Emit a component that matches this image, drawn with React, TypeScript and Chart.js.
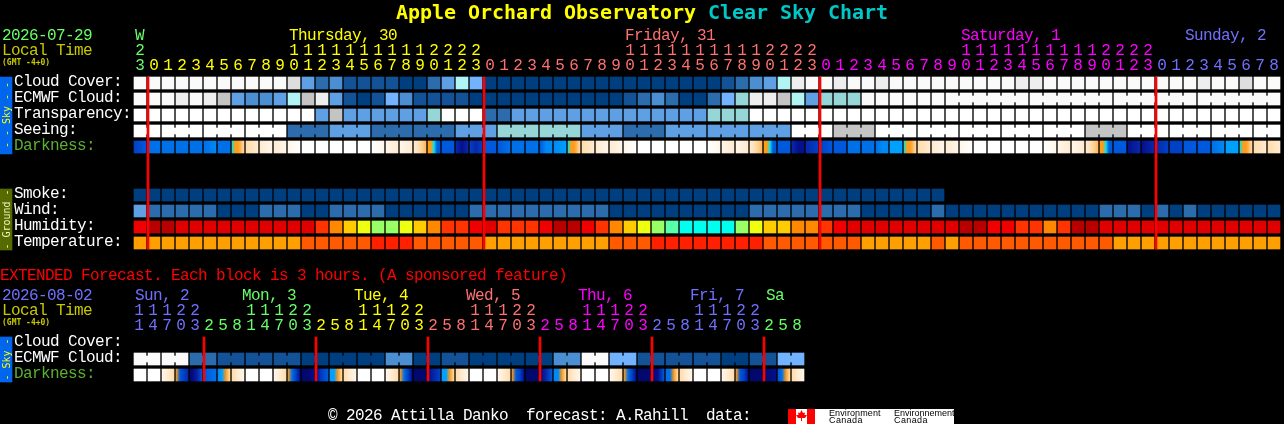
import { useEffect, useRef } from "react";
import { Chart, registerables } from "chart.js";

Chart.register(...registerables);

// sky level colours, 0 = clear/good ... 12 = white
const SKY_COLORS = ["#003f7f", "#135296", "#2c6cad", "#4c8ed2", "#5f9fe4", "#72b2ff", "#96d6d6", "#b0f4f4", "#c4c4c4", "#dedede", "#eeeeee", "#fafafa", "#ffffff"];
const HUMIDITY_COLORS = ["#b80000", "#e00000", "#f00000", "#ff3400", "#ff8800", "#ffcc00", "#eeff10", "#99ff66", "#59ffaa", "#00ffee"];
const TEMP_COLORS = ["#ffa000", "#ff5a00", "#ff2000"];
const DARK_COLORS = ["#ffffff", "#fff6ea", "#ffebd0", "#ffdcaa", "#ffb860", "#ff9c18", "#00e4f0", "#00a0ff", "#0088f4", "#0070e8", "#0058dc", "#0040c4", "#0828a8", "#04108c", "#02086c"];

const GREEN = "#66ff66";
const YELLOW = "#ffff00";
const SALMON = "#ff7070";
const MAGENTA = "#ff00ff";
const PERIWINKLE = "#7070ff";
const DIM_YELLOW = "#c8c800";
const DARK_GREEN = "#5cb030";

const hours = [23, 0, 1, 2, 3, 4, 5, 6, 7, 8, 9, 10, 11, 12, 13, 14, 15, 16, 17, 18, 19, 20, 21, 22, 23, 0, 1, 2, 3, 4, 5, 6, 7, 8, 9, 10, 11, 12, 13, 14, 15, 16, 17, 18, 19, 20, 21, 22, 23, 0, 1, 2, 3, 4, 5, 6, 7, 8, 9, 10, 11, 12, 13, 14, 15, 16, 17, 18, 19, 20, 21, 22, 23, 0, 1, 2, 3, 4, 5, 6, 7, 8];
const midnights = [1, 25, 49, 73];
const dayLabels = ["W", "Thursday, 30", "Friday, 31", "Saturday, 1", "Sunday, 2"];
const dayLabelCells = [0, 11, 35, 59, 75];
const dayColors = [GREEN, YELLOW, SALMON, MAGENTA, PERIWINKLE];

const cloudCover = [11, 11, 11, 11, 11, 11, 11, 11, 11, 11, 11, 9, 4, 2, 3, 1, 1, 1, 1, 0, 0, 2, 4, 7, 5, 0, 0, 0, 0, 0, 0, 0, 0, 0, 0, 0, 0, 0, 0, 0, 0, 0, 1, 2, 3, 4, 7, 10, 11, 11, 10, 11, 11, 10, 11, 11, 11, 11, 11, 11, 11, 11, 11, 10, 10, 11, 11, 11, 11, 11, 11, 11, 11, 11, 11, 11, 10, 11, 11, 9, 11, 11];
const ecmwfCloud = [11, 11, 11, 10, 11, 10, 8, 4, 3, 3, 4, 7, 8, 10, 4, 1, 0, 1, 5, 3, 1, 1, 1, 1, 0, 0, 0, 0, 0, 0, 0, 0, 0, 0, 0, 1, 2, 3, 2, 0, 0, 2, 5, 6, 10, 10, 8, 7, 4, 6, 6, 6, 11, 11, 11, 11, 11, 11, 11, 11, 11, 11, 11, 11, 11, 11, 11, 11, 11, 11, 11, 11, 11, 11, 11, 11, 11, 11, 11, 11, 11, 11];
const transparency = [12, 12, 12, 12, 12, 12, 12, 12, 12, 12, 12, 12, 12, 4, 8, 4, 4, 4, 4, 4, 4, 6, 12, 12, 12, 2, 2, 4, 4, 4, 4, 4, 4, 4, 4, 4, 4, 4, 4, 4, 4, 6, 6, 6, 12, 12, 12, 12, 12, 12, 12, 12, 12, 12, 12, 12, 12, 12, 12, 12, 12, 12, 12, 12, 12, 12, 12, 12, 12, 12, 12, 12, 12, 12, 12, 12, 12, 12, 12, 12, 12, 12];
const seeing = [12, 12, 12, 12, 12, 12, 12, 12, 12, 12, 12, 2, 2, 2, 4, 4, 4, 2, 2, 2, 2, 2, 2, 4, 4, 4, 6, 6, 6, 6, 6, 6, 4, 4, 4, 2, 2, 2, 4, 4, 4, 4, 4, 4, 4, 4, 4, 12, 12, 12, 8, 8, 8, 12, 12, 12, 12, 12, 12, 12, 12, 12, 12, 12, 12, 12, 12, 12, 8, 8, 8, 12, 12, 12, 12, 12, 12, 12, 12, 12, 12, 12];
const darkness = [
  [11, 10], [9], [9], [9], [9], [9, 8], [9], [6, 5, 5, 4, 3], [3, 2], [2, 1], [2, 1], [1, 0], [0], [0], [0], [0], [0], [0, 1], [1, 2], [1, 2], [2, 3, 4], [5, 5, 6, 10, 10],
  [10], [12, 13, 12], [11, 12, 11], [10], [10, 9], [9], [9], [10, 8, 8], [8, 7], [6, 5, 5, 4, 3], [3, 2], [2, 1], [2, 1], [1, 0], [0], [0], [0], [0], [0], [0, 1], [1, 2], [1, 2], [2, 3, 4], [5, 5, 6, 10, 10],
  [10], [12, 13, 13], [12, 11], [11, 10], [10], [9], [9], [9, 8, 8], [7], [6, 5, 5, 4, 3], [3, 2], [2, 1], [2, 1], [1, 0], [0], [0], [0], [0], [0], [0, 1], [1, 2], [1, 2], [2, 3, 4], [5, 5, 6, 10, 10],
  [10], [13, 12], [13, 12], [12, 11], [11], [10], [10], [9, 8], [7], [6, 5, 5, 4, 3], [3, 2], [3, 2],
];
const smoke = [0, 0, 0, 0, 0, 0, 0, 0, 0, 0, 0, 0, 0, 0, 0, 0, 0, 0, 0, 0, 0, 0, 0, 0, 0, 0, 0, 0, 0, 0, 0, 0, 0, 0, 0, 0, 0, 0, 0, 0, 0, 0, 0, 0, 0, 0, 0, 0, 0, 0, 0, 0, 0, 0, 0, 0, 0, 0];
const wind = [4, 2, 2, 2, 2, 2, 0, 0, 0, 2, 2, 2, 0, 0, 2, 2, 2, 2, 0, 0, 0, 0, 0, 0, 2, 2, 2, 2, 2, 2, 2, 2, 2, 2, 0, 0, 0, 0, 0, 0, 0, 0, 0, 0, 2, 2, 2, 2, 2, 2, 2, 2, 0, 0, 0, 0, 0, 2, 0, 0, 0, 0, 0, 0, 0, 0, 0, 0, 0, 2, 2, 2, 0, 2, 0, 2, 0, 0, 0, 0, 0, 0];
const humidity = [2, 0, 0, 1, 1, 1, 1, 1, 1, 1, 1, 1, 1, 3, 4, 5, 6, 7, 7, 6, 5, 4, 3, 3, 2, 1, 3, 3, 3, 2, 0, 0, 2, 3, 4, 5, 6, 7, 8, 9, 9, 9, 9, 7, 6, 5, 5, 4, 4, 3, 2, 1, 1, 1, 1, 1, 1, 1, 1, 0, 0, 2, 2, 3, 3, 4, 3, 0, 0, 1, 1, 1, 1, 1, 1, 1, 1, 1, 1, 1, 1, 1];
const temperature = [0, 0, 0, 0, 0, 0, 0, 0, 0, 0, 0, 0, 1, 1, 1, 1, 1, 2, 2, 2, 1, 1, 1, 1, 1, 0, 0, 0, 0, 0, 0, 0, 0, 0, 1, 1, 1, 2, 2, 2, 2, 2, 2, 2, 2, 1, 1, 1, 1, 1, 1, 1, 0, 0, 0, 0, 0, 1, 0, 1, 1, 1, 1, 1, 1, 1, 1, 1, 1, 1, 0, 0, 0, 0, 0, 0, 0, 0, 0, 0, 0, 0];

// runs of cells that share one forecast value
const ecmwfJoins = [[58, 63], [64, 69], [70, 75], [76, 81]];
const seeingJoins = [[0, 1], [2, 4], [5, 7], [8, 10], [11, 13], [14, 16], [17, 19], [20, 22], [23, 25], [26, 28], [29, 31], [32, 34], [35, 37], [38, 40], [41, 43], [44, 46], [47, 49], [50, 52], [53, 55], [56, 58], [59, 61], [62, 64], [65, 67], [68, 70], [71, 73], [74, 76], [77, 79], [80, 81]];

// extended forecast, 3 hour blocks
const extHours = [11, 14, 17, 20, 23, 2, 5, 8, 11, 14, 17, 20, 23, 2, 5, 8, 11, 14, 17, 20, 23, 2, 5, 8, 11, 14, 17, 20, 23, 2, 5, 8, 11, 14, 17, 20, 23, 2, 5, 8, 11, 14, 17, 20, 23, 2, 5, 8];
const extMidnights = [5, 13, 21, 29, 37, 45];
const extDayLabels = ["Sun, 2", "Mon, 3", "Tue, 4", "Wed, 5", "Thu, 6", "Fri, 7", "Sa"];
const extDayLabelCells = [0, 7.64, 15.64, 23.64, 31.64, 39.64, 45.07];
const extDayColors = [PERIWINKLE, GREEN, YELLOW, SALMON, MAGENTA, PERIWINKLE, GREEN];
const extEcmwf = [11, 11, 11, 11, 2, 2, 1, 1, 1, 1, 1, 1, 0, 0, 0, 0, 0, 0, 3, 3, 0, 0, 1, 1, 0, 0, 0, 0, 0, 0, 3, 3, 11, 11, 5, 5, 1, 1, 1, 1, 1, 1, 0, 0, 1, 1, 5, 5];
const extEcmwfJoins = [[0, 1], [2, 3], [4, 5], [6, 7], [8, 9], [10, 11], [12, 13], [14, 15], [16, 17], [18, 19], [20, 21], [22, 23], [24, 25], [26, 27], [28, 29], [30, 31], [32, 33], [34, 35], [36, 37], [38, 39], [40, 41], [42, 43], [44, 45], [46, 47]];
const extDarkness = [
  [0], [0], [1, 2, 3], [5, 10, 11, 12], [14, 13, 12, 10], [10, 9], [8, 7, 5, 3], [3, 2, 1],
  [0], [0], [1, 2, 3], [5, 9, 11, 13], [14, 14, 13], [13, 11, 10], [7, 7, 5, 3], [3, 2, 1],
  [0], [0], [1, 2, 3], [5, 9, 11, 13], [14], [13, 11], [7, 7, 5, 3], [3, 2, 1],
  [0], [0], [1, 2, 3], [5, 10, 11, 13], [14], [14, 12, 10], [8, 8, 5, 3], [3, 2, 1],
  [0], [0], [1, 2, 3], [5, 9, 11, 13], [14], [14, 13, 10], [9, 9, 5, 3], [3, 2, 1],
  [0], [0], [1, 2, 3], [5, 10, 11, 13], [14], [14, 13], [10, 9, 5, 3], [3, 2, 1],
];

const rowLabels = ["Cloud Cover:", "ECMWF Cloud:", "Transparency:", "Seeing:", "Darkness:", "Smoke:", "Wind:", "Humidity:", "Temperature:", "Cloud Cover:", "ECMWF Cloud:", "Darkness:"];
const rowSlots = [0, 1, 2, 3, 4, 7, 8, 9, 10, 16.25, 17.25, 18.25];

const CELL = 6 / 14; // cell centre inside its 14px column
const GAP = 13 / 14; // gap centre between two columns
const ROW_H = 0.75;
const MONO = '"DejaVu Sans Mono"';
const THIN = `16px "Liberation Mono"`;

const cells = (label: string, values: number[], row: number, colors: string[]) => ({
  label,
  data: values.map((v, i) => ({ x: i + CELL, y: [row, row + ROW_H] })),
  backgroundColor: values.map((v) => colors[v]),
  barThickness: 12,
  order: 2,
});

const joins = (label: string, values: number[], spans: number[][], row: number) => {
  const links: number[] = [];
  spans.forEach(([a, b]) => {
    for (let i = a; i < b; i++) links.push(i);
  });
  return {
    label,
    data: links.map((i) => ({ x: i + GAP, y: [row + 3 / 16, row + 9 / 16] })),
    backgroundColor: links.map((i) => SKY_COLORS[values[i]]),
    barThickness: 2,
    order: 2,
  };
};

const shaded = (label: string, stops: number[][], row: number) => ({
  label,
  data: stops.map((s, i) => ({ x: i + CELL, y: [row, row + ROW_H] })),
  backgroundColor: (ctx: any) => {
    const s = stops[ctx.dataIndex];
    if (!s) return "#000";
    if (s.length === 1) return DARK_COLORS[s[0]];
    const left = ctx.chart.scales.x?.getPixelForValue(ctx.dataIndex);
    if (!Number.isFinite(left)) return DARK_COLORS[s[0]];
    const g = ctx.chart.ctx.createLinearGradient(left, 0, left + 12, 0);
    s.forEach((v, k) => g.addColorStop(k / (s.length - 1), DARK_COLORS[v]));
    return g;
  },
  barThickness: 12,
  order: 2,
});

const redLines = (label: string, at: number[], from: number, to: number) => ({
  label,
  data: at.map((x) => ({ x, y: [from, to] })),
  backgroundColor: "#ff0000",
  barThickness: 2,
  order: 0,
});

const strip = (label: string, from: number, to: number, color: string) => ({
  label,
  data: [{ x: -128 / 14, y: [from, to] }],
  backgroundColor: color,
  barThickness: 12,
  order: 2,
});

const textPlugin = {
  id: "cscText",
  afterDraw(chart: any) {
    const ctx = chart.ctx;
    const xs = chart.scales.x;
    const ys = chart.scales.y;
    const put = (s: string, x: number, y: number, color: string, font = THIN, align = "left", spacing = "-0.6px") => {
      ctx.font = font;
      ctx.fillStyle = color;
      ctx.textAlign = align;
      ctx.letterSpacing = spacing;
      ctx.fillText(s, x, y);
    };
    const side = (s: string, x: number, y: number, color: string) => {
      ctx.save();
      ctx.translate(x, y);
      ctx.rotate(-Math.PI / 2);
      put(s, 0, 0, color, `10px ${MONO}`, "center", "0px");
      ctx.restore();
    };
    ctx.save();
    ctx.textBaseline = "alphabetic";

    // title
    put("Apple Orchard Observatory", 396, 19, YELLOW, `bold 20px ${MONO}`, "left", "-0.04px");
    put("Clear Sky Chart", 708, 19, "#00c8c8", `bold 20px ${MONO}`, "left", "-0.04px");

    // main header
    put("2026-07-29", 2, 40, GREEN);
    put("Local Time", 2, 55, DIM_YELLOW);
    put("(GMT -4+0)", 2, 65, DIM_YELLOW, `bold 8px ${MONO}`, "left", "0px");
    dayLabels.forEach((s, d) => put(s, xs.getPixelForValue(dayLabelCells[d]) + 1, 40, dayColors[d]));
    hours.forEach((h, i) => {
      const day = i < 1 ? 0 : i < 25 ? 1 : i < 49 ? 2 : i < 73 ? 3 : 4;
      const x = xs.getPixelForValue(i + CELL);
      if (h > 9) put(String(Math.floor(h / 10)), x, 55, dayColors[day], THIN, "center", "0px");
      put(String(h % 10), x, 70, dayColors[day], THIN, "center", "0px");
    });

    // row labels
    rowLabels.forEach((s, r) => {
      const color = s === "Darkness:" ? DARK_GREEN : "#ffffff";
      put(s, 14, ys.getPixelForValue(rowSlots[r] + 9 / 16), color);
    });

    // side strips
    side("- - Sky - -", 10, 115, YELLOW);
    side("- Ground -", 10, 219.5, "#f4f4c0");
    side("- Sky -", 10, 359.5, YELLOW);

    // extended header
    put("EXTENDED Forecast. Each block is 3 hours. (A sponsored feature)", 0, 280, "#ff0000");
    put("2026-08-02", 2, 300, PERIWINKLE);
    put("Local Time", 2, 315, DIM_YELLOW);
    put("(GMT -4+0)", 2, 325, DIM_YELLOW, `bold 8px ${MONO}`, "left", "0px");
    extDayLabels.forEach((s, d) => put(s, xs.getPixelForValue(extDayLabelCells[d]) + 1, 300, extDayColors[d]));
    extHours.forEach((h, i) => {
      const day = i < 5 ? 0 : 1 + Math.floor((i - 5) / 8);
      const x = xs.getPixelForValue(i + CELL) - 1;
      if (h > 9) put(String(Math.floor(h / 10)), x, 315, extDayColors[day], THIN, "center", "0px");
      put(String(h % 10), x, 330, extDayColors[day], THIN, "center", "0px");
    });

    // footer and logo
    put("\u00a9 2026 Attilla Danko  forecast: A.Rahill  data:", 328, 420, "#ffffff");
    ctx.fillStyle = "#ffffff";
    ctx.fillRect(788, 409, 166, 15);
    ctx.fillStyle = "#ff0000";
    ctx.fillRect(788, 409, 8, 15);
    ctx.fillRect(807, 409, 8, 15);
    ctx.beginPath();
    [[801.5, 410], [803, 413], [805, 412.5], [804.5, 415], [807, 415], [805, 418], [802, 418], [802, 421], [801, 421], [801, 418], [798, 418], [796, 415], [798.5, 415], [798, 412.5], [800, 413]].forEach(([x, y], k) => (k ? ctx.lineTo(x, y) : ctx.moveTo(x, y)));
    ctx.closePath();
    ctx.fill();
    const logo = '9px "Liberation Sans"';
    put("Environment", 829, 416, "#000000", logo, "left", "0.1px");
    put("Canada", 829, 423, "#000000", logo, "left", "0.4px");
    put("Environnement", 894, 416, "#000000", logo, "left", "0px");
    put("Canada", 894, 423, "#000000", logo, "left", "0.4px");
    ctx.restore();
  },
};

const App = () => {
  const canvasRef = useRef<HTMLCanvasElement | null>(null);

  useEffect(() => {
    document.body.style.margin = "0";
    document.body.style.background = "#000";
    if (!canvasRef.current) return;

    const chart = new Chart(canvasRef.current, {
      type: "bar",
      data: {
        datasets: [
          strip("Sky strip", 0, 4.8125, "#0066ee"),
          strip("Ground strip", 7, 10.8125, "#556b00"),
          strip("Extended sky strip", 16.25, 19.0625, "#0066ee"),
          cells("Cloud Cover", cloudCover, 0, SKY_COLORS),
          cells("ECMWF Cloud", ecmwfCloud, 1, SKY_COLORS),
          joins("ECMWF joins", ecmwfCloud, ecmwfJoins, 1),
          cells("Transparency", transparency, 2, SKY_COLORS),
          cells("Seeing", seeing, 3, SKY_COLORS),
          joins("Seeing joins", seeing, seeingJoins, 3),
          shaded("Darkness", darkness, 4),
          cells("Smoke", smoke, 7, SKY_COLORS),
          cells("Wind", wind, 8, SKY_COLORS),
          cells("Humidity", humidity, 9, HUMIDITY_COLORS),
          cells("Temperature", temperature, 10, TEMP_COLORS),
          cells("Extended ECMWF", extEcmwf, 17.25, SKY_COLORS),
          joins("Extended joins", extEcmwf, extEcmwfJoins, 17.25),
          shaded("Extended Darkness", extDarkness, 18.25),
          redLines("Midnight", midnights, 0, 10.75),
          redLines("Extended midnight", extMidnights, 16.25, 19),
        ] as any,
      },
      options: {
        responsive: false,
        devicePixelRatio: 1,
        animation: false,
        grouped: false,
        borderSkipped: false,
        layout: { padding: 0 },
        plugins: { legend: { display: false }, title: { display: false }, tooltip: { enabled: false } },
        scales: {
          x: { type: "linear", display: false, offset: false, min: -134 / 14, max: 1150 / 14 },
          y: { type: "linear", display: false, reverse: true, min: -4.8125, max: 21.6875 },
        },
      } as any,
      plugins: [textPlugin],
    });

    return () => {
      chart.destroy();
    };
  }, []);

  return <canvas ref={canvasRef} width={1284} height={424} style={{ display: "block", background: "#000" }} />;
};

export default App;
